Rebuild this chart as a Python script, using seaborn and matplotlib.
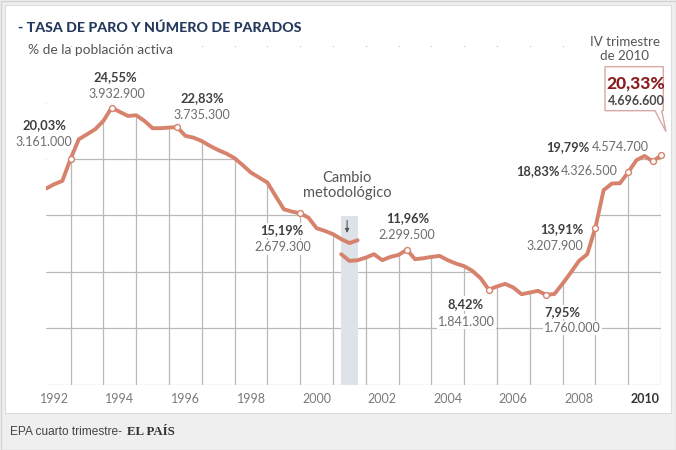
import numpy as np
import pandas as pd
import matplotlib
matplotlib.use("Agg")
import matplotlib.pyplot as plt
from matplotlib.patches import Rectangle, Polygon
from matplotlib.transforms import IdentityTransform
import seaborn as sns

# ---------------- data ----------------
# Old EPA methodology, quarterly from 1992 T1 to 2001 T3 (% of active population)
inicio_antigua = (1992, 1)
tasa_antigua = [17.38, 17.77, 18.07, 20.03, 21.76, 22.20, 22.65, 23.39, 24.55, 24.19,
                23.83, 23.89, 23.39, 22.74, 22.74, 22.80, 22.83, 22.06, 21.90, 21.60,
                21.17, 20.80, 20.49, 20.08, 19.46, 18.80, 18.36, 17.92, 16.73, 15.55,
                15.34, 15.19, 14.81, 13.87, 13.63, 13.34, 12.90, 12.55, 12.80]
# New EPA methodology, quarterly from 2001 T1 to 2010 T4
inicio_nueva = (2001, 1)
tasa_nueva = [11.56, 10.97, 11.03, 11.26, 11.56, 11.03, 11.32, 11.50, 11.96, 11.12,
              11.20, 11.32, 11.41, 11.03, 10.73, 10.50, 10.08, 9.43, 8.42, 8.70,
              8.93, 8.60, 8.01, 8.16, 8.31, 7.95, 8.03, 8.95, 9.93, 10.97,
              11.56, 13.91, 17.24, 17.83, 17.86, 18.83, 19.90, 20.28, 19.79, 20.33]

# Highlighted quarters (year, quarter), their rate labels and number of unemployed
hitos_periodo = [(1992, 4), (1994, 1), (1996, 1), (1999, 4), (2003, 1), (2005, 3),
                 (2007, 2), (2008, 4), (2009, 4), (2010, 3), (2010, 4)]
hitos_tasa = ["20,03%", "24,55%", "22,83%", "15,19%", "11,96%", "8,42%",
              "7,95%", "13,91%", "18,83%", "19,79%", "20,33%"]
hitos_parados = ["3.161.000", "3.932.900", "3.735.300", "2.679.300", "2.299.500",
                 "1.841.300", "1.760.000", "3.207.900", "4.326.500", "4.574.700",
                 "4.696.600"]
hitos_serie = ["antigua"] * 4 + ["nueva"] * 7

anios = list(range(1992, 2011))
anios_etiqueta = [str(a) for a in range(1992, 2011, 2)]

cambio_metodologico = ((2001, 1), (2001, 3))  # overlap band
titulo = "- TASA DE PARO Y NÚMERO DE PARADOS"
subtitulo = "% de la población activa"
fuente = "EPA cuarto trimestre-"
marca = "EL PAÍS"

# ---------------- helpers ----------------
def pos(y, q):
    return y + (q - 1) / 4.0

def serie(inicio, valores):
    y0, q0 = inicio
    k0 = (y0 * 4 + q0 - 1)
    ks = np.arange(k0, k0 + len(valores))
    return pd.DataFrame({"t": [pos(k // 4, k % 4 + 1) for k in ks], "tasa": valores})

df_old = serie(inicio_antigua, tasa_antigua)
df_new = serie(inicio_nueva, tasa_nueva)

def valor(periodo, nombre):
    df = df_old if nombre == "antigua" else df_new
    t = pos(*periodo)
    return t, float(df.loc[np.isclose(df.t, t), "tasa"].iloc[0])

# ---------------- style ----------------
sns.set_theme(style="white")
plt.rcParams["font.family"] = ["Lato", "DejaVu Sans"]

LINE = "#d6826d"
GRID = "#b9b9b9"
BOLD = "#3f3f3f"
NUM = "#6e6e6e"
FS_B = 9.3
FS_N = 9.0

W, H = 676, 450
fig = plt.figure(figsize=(W / 100, H / 100), dpi=100)
fig.patch.set_facecolor("#efefef")
fig.add_artist(Rectangle((0.5 / W, 0.5 / H), (W - 1) / W, (H - 1) / H,
                         transform=fig.transFigure, fc="none", ec="#d4d4d4", lw=1))
fig.add_artist(Rectangle((5 / W, (H - 413) / H), 666 / W, 408 / H,
                         transform=fig.transFigure, fc="white", ec="#dcdcdc", lw=0.8, zorder=0))

ax = fig.add_axes([46 / W, (H - 384.5) / H, 615 / W, 338.1 / H])
ax.set_facecolor("none")
ax.set_xlim(1992.0, 2010.75)
ax.set_ylim(0, 30)
for s in ax.spines.values():
    s.set_visible(False)

# grid (major ticks at each Q4)
ax.set_xticks([a + 0.75 for a in anios])
ax.set_xticklabels([])
ax.set_yticks([0, 5, 10, 15, 20, 25])
ax.set_yticklabels([])
ax.grid(True, which="major", color=GRID, lw=0.9)
ax.set_axisbelow(True)
ax.tick_params(which="both", length=0)
ax.set_xticks([int(a) + 0.25 for a in anios_etiqueta], anios_etiqueta, minor=True)
ax.tick_params(axis="x", which="minor", labelsize=9, labelcolor="#7a7a7a", pad=6)
lbls = ax.get_xticklabels(minor=True)
lbls[-1].set_fontweight("bold")
lbls[-1].set_color("#333333")

# mask the grid above the curve (grid only shows beneath the data)
env = pd.concat([df_old, df_new[df_new.t > df_old.t.max()]])
ax.fill_between(env.t, env.tasa, 30, color="white", lw=0, zorder=1)

# methodology-change band
b0, b1 = pos(*cambio_metodologico[0]), pos(*cambio_metodologico[1])
bc = (b0 + b1) / 2 - 0.07
ax.axvspan(b0, b1, ymin=0, ymax=14.95 / 30, color="#dde3e9", lw=0, zorder=1.5)
ax.text(bc, 18.3, "Cambio", ha="center", va="center",
        fontsize=10.5, color="#555555", zorder=6)
ax.text(bc, 17.0, "metodológico", ha="center", va="center",
        fontsize=10.5, color="#555555", zorder=6)
ax.annotate("", xy=(bc, 13.2), xytext=(bc, 14.8),
            arrowprops=dict(arrowstyle="-|>", color="#555555", lw=0.8, mutation_scale=6),
            zorder=6)

# lines
sns.lineplot(data=df_old, x="t", y="tasa", ax=ax, color=LINE, lw=2.8, sort=False,
             estimator=None, zorder=3, solid_capstyle="round", solid_joinstyle="round")
sns.lineplot(data=df_new, x="t", y="tasa", ax=ax, color=LINE, lw=2.8, sort=False,
             estimator=None, zorder=3, solid_capstyle="round", solid_joinstyle="round")
ax.set_xlabel("")
ax.set_ylabel("")

pts = [valor(p, s) for p, s in zip(hitos_periodo, hitos_serie)]
df_h = pd.DataFrame({"t": [p[0] for p in pts], "tasa": [p[1] for p in pts]})
sns.scatterplot(data=df_h, x="t", y="tasa", ax=ax, s=18, color="white",
                edgecolor=LINE, linewidth=1.0, zorder=4, clip_on=False)
ax.set_xlabel("")
ax.set_ylabel("")

# annotation layout: (dx, dy, ha) in pixels for rate label and number label
layout = [
    ((-26, 34, "center"), (-27, 17, "center")),
    ((4, 31, "center"), (5, 14, "center")),
    ((25, 29, "center"), (25, 12, "center")),
    ((-18, -17, "center"), (-17, -34, "center")),
    ((1, 32, "center"), (0, 15, "center")),
    ((-23, -14, "center"), (-22, -32, "center")),
    ((-2, -17, "left"), (-2, -33, "left")),
    ((-12, -1, "right"), (-12, -18, "right")),
    ((-69, 1, "right"), (-11, 1, "right")),
    ((-63, 14.5, "right"), (-4, 14.5, "right")),
]
bb = dict(boxstyle="square,pad=0.1", fc="white", ec="none")
for (t, v), tl, nl, ((dx1, dy1, ha1), (dx2, dy2, ha2)) in zip(pts, hitos_tasa, hitos_parados, layout):
    ax.annotate(tl, (t, v), xytext=(dx1, dy1), textcoords="offset pixels", ha=ha1,
                va="center", fontsize=FS_B, fontweight="bold", color=BOLD, zorder=6, bbox=bb)
    ax.annotate(nl, (t, v), xytext=(dx2, dy2), textcoords="offset pixels", ha=ha2,
                va="center", fontsize=FS_N, color=NUM, zorder=6, bbox=bb)

# callout for last quarter
t_last, v_last = pts[-1]
fig.canvas.draw()
px, py = ax.transData.transform((t_last, v_last))
L, R, B, T = px - 56, px + 2.3, py + 44.7, py + 88.7
call = Polygon([(L, B), (px - 6, B), (px + 5, py + 23.7), (px + 0.7, B), (R, B), (R, T), (L, T)],
               closed=True, fc="white", ec="#d7a9a4", lw=1.0, transform=IdentityTransform(),
               zorder=7, clip_on=False)
ax.add_artist(call)
ax.annotate(hitos_tasa[-1], (t_last, v_last), xytext=(-25, 72), textcoords="offset pixels",
            ha="center", va="center", fontsize=12.5, fontweight="black", color="#8a1f22",
            zorder=8, annotation_clip=False)
ax.annotate(hitos_parados[-1], (t_last, v_last), xytext=(-25, 54), textcoords="offset pixels",
            ha="center", va="center", fontsize=9, fontweight="bold", color="#4a4a4a",
            zorder=8, annotation_clip=False)
ax.annotate("IV trimestre", (t_last, v_last), xytext=(-36, 113), textcoords="offset pixels",
            ha="center", va="center", fontsize=9.6, color="#555555", annotation_clip=False)
ax.annotate("de 2010", (t_last, v_last), xytext=(-36, 99.5), textcoords="offset pixels",
            ha="center", va="center", fontsize=9.6, color="#555555", annotation_clip=False)

# titles and footer
fig.text(18 / W, 1 - 28 / H, titulo, ha="left", va="center", fontsize=10.2,
         fontweight="black", color="#23395d")
fig.text(28 / W, 1 - 50 / H, subtitulo, ha="left", va="center", fontsize=9.9,
         color="#555555")
fig.text(10 / W, 1 - 432 / H, fuente, ha="left", va="center", fontsize=8.6,
         color="#444444", family=["Liberation Sans", "DejaVu Sans"])
fig.text(127 / W, 1 - 432 / H, marca, ha="left", va="center", fontsize=9.3,
         color="#333333", fontweight="bold", family=["Liberation Serif", "DejaVu Serif"])

fig.savefig("out.png", dpi=100, facecolor=fig.get_facecolor())
